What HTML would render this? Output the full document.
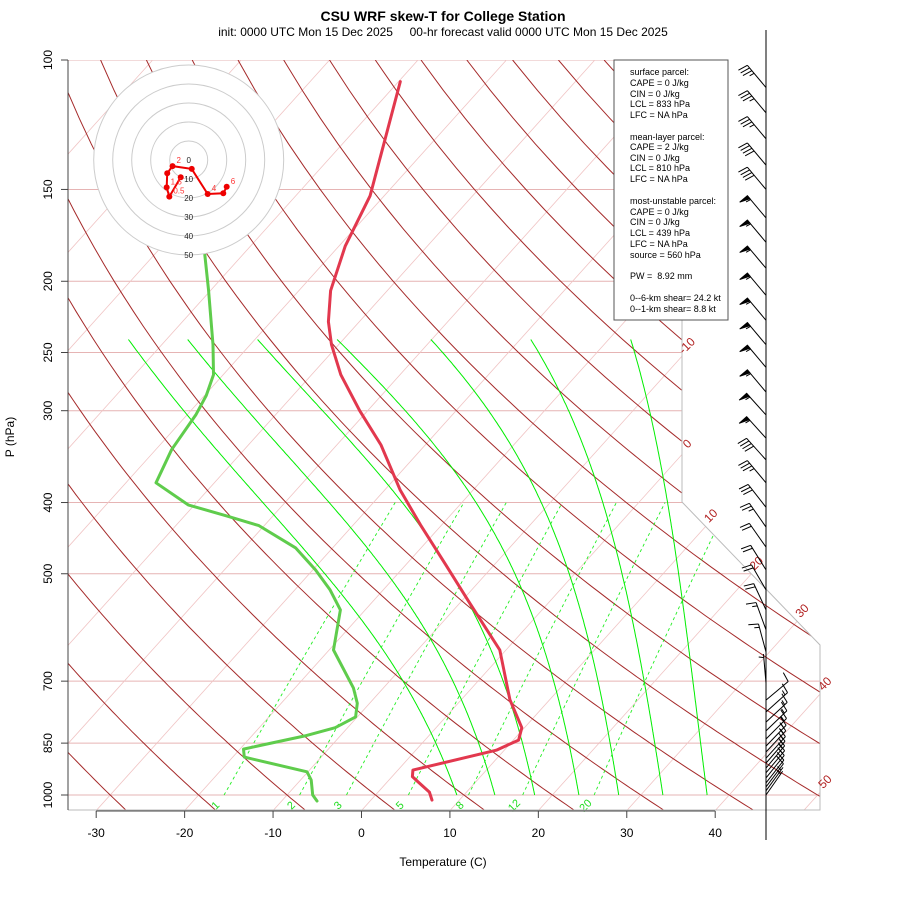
<!DOCTYPE html>
<html><head><meta charset="utf-8"><style>
body{margin:0;background:#fff}
svg{display:block;font-family:"Liberation Sans",sans-serif}
</style></head><body>
<svg id="c" width="900" height="900" viewBox="0 0 900 900">
<defs><clipPath id="plotclip"><polygon points="68,60 682,60 682,502 820,645 820,810 68,810"/></clipPath></defs>
<g id="grid" clip-path="url(#plotclip)"></g>
<g id="prof"></g>
<g id="axes"></g>
<g id="barbs"></g>
<g id="hodo"></g>
<text x="443" y="21" text-anchor="middle" font-size="14" font-weight="bold">CSU WRF skew-T for College Station</text>
<text x="443" y="36" text-anchor="middle" font-size="12" style="white-space:pre">init: 0000 UTC Mon 15 Dec 2025     00-hr forecast valid 0000 UTC Mon 15 Dec 2025</text>
<text x="443" y="866" text-anchor="middle" font-size="12">Temperature (C)</text>
<text x="14" y="437" text-anchor="middle" font-size="12" transform="rotate(-90 14 437)">P (hPa)</text>
<g font-size="9">
<rect x="614" y="60" width="114" height="260" fill="#fff" stroke="#555" stroke-width="1"/>
<text x="630" y="75">surface parcel:</text>
<text x="630" y="86">CAPE = 0 J/kg</text>
<text x="630" y="97">CIN = 0 J/kg</text>
<text x="630" y="107">LCL = 833 hPa</text>
<text x="630" y="118">LFC = NA hPa</text>
<text x="630" y="140">mean-layer parcel:</text>
<text x="630" y="150">CAPE = 2 J/kg</text>
<text x="630" y="161">CIN = 0 J/kg</text>
<text x="630" y="171">LCL = 810 hPa</text>
<text x="630" y="182">LFC = NA hPa</text>
<text x="630" y="204">most-unstable parcel:</text>
<text x="630" y="215">CAPE = 0 J/kg</text>
<text x="630" y="225">CIN = 0 J/kg</text>
<text x="630" y="236">LCL = 439 hPa</text>
<text x="630" y="247">LFC = NA hPa</text>
<text x="630" y="258">source = 560 hPa</text>
<text x="630" y="279" style="white-space:pre">PW =  8.92 mm</text>
<text x="630" y="301">0--6-km shear= 24.2 kt</text>
<text x="630" y="312">0--1-km shear= 8.8 kt</text>
</g>
</svg>
<script>
// ---- data ----
const tempP = [107,153,179,206,227,244,268,300,334,385,429,486,543,635,742,810,842,869,925,944,960,991,1016];
const tempT = [-69.8,-61.6,-59.3,-56.4,-53.5,-50.8,-46.7,-40.9,-35.0,-28.2,-22.4,-15.5,-9.4,-0.7,5.5,9.7,10.6,9.1,1.7,2.3,3.5,5.8,6.9];
const dewP = [184,206,244,268,286,304,339,376,403,417,430,461,494,526,560,635,715,750,783,810,831,866,888,930,954,1000,1019];
const dewT = [-74.3,-70.2,-64.2,-61.1,-59.8,-59.0,-58.2,-56.6,-50.7,-45.3,-40.6,-34.2,-29.7,-26.0,-22.8,-19.5,-13.4,-11.4,-10.2,-11.4,-14.0,-19.6,-18.7,-10.1,-8.8,-7.1,-6.0];
const barbP = [109,118,128,139,150,164,177,192,209,226,244,262,283,304,327,350,376,406,432,460,494,526,560,596,639,704,743,771,796,818,839,858,874,891,905,919,933,948,963,975,987,1000];
const barbDir = [320,320,320,320,320,320,320,320,320,320,320,320,320,318,318,318,320,322,325,325,328,330,335,340,345,355,50,48,47,46,45,44,43,42,41,40,40,39,38,37,36,35];
const barbSpd = [35,35,35,40,40,55,55,55,55,55,55,55,55,55,55,40,35,30,25,20,20,20,20,15,15,5,10,15,15,15,15,15,15,15,15,15,15,10,10,10,5,5];
const hodoU = [-4.2,-10.2,-11.6,-11.3,-8.5,1.6,10.0,18.2,20.0];
const hodoV = [-9.1,-19.3,-14.4,-7.0,-3.2,-4.7,-17.9,-17.5,-14.1];
const hodoLabels = ["","0.5","1.5","","2","","4","","6"];
const isobars = [100,150,200,250,300,400,500,700,850,1000];
const xTicks = [-30,-20,-10,0,10,20,30,40];
const dryThetas = [-60,-50,-40,-30,-20,-10,0,10,20,30,40,50,60,70,80,90,100,110,120,130,140,150,160];
const isoLabels = [-10,0,10,20,30,40,50];
const moistT1000 = [9.2,13.5,18,23,27.5,32.5,37.5];
const moistT240 = [-74.3,-67.6,-59.7,-50.7,-40.1,-28.8,-17.5];
const mixRatios = [1,2,3,5,8,12,20];

// ---- scales ----
const NS='http://www.w3.org/2000/svg';
function Y(p){return 795+319.2*Math.log(p/1000);}
function X(T,p){return 362+8.843*T+0.9*(810-Y(p));}
function mk(parent,tag,attrs){const e=document.createElementNS(NS,tag);for(const k in attrs)e.setAttribute(k,attrs[k]);parent.appendChild(e);return e;}
function pathD(pts){return pts.map((q,i)=>(i?'L':'M')+q[0].toFixed(1)+','+q[1].toFixed(1)).join('');}
function rightX(y){if(y<=502)return 682;if(y<=645)return 682+(y-502)*(138/143);return 820;}
const grid=document.getElementById('grid'),prof=document.getElementById('prof'),axes=document.getElementById('axes');

// isobars
isobars.forEach(p=>{const l=mk(grid,'line',{x1:68,x2:820,y1:Y(p),y2:Y(p),stroke:'#e6b4b4','stroke-width':1});

});
// isotherms
for(let T=-150;T<=60;T+=10){const l=mk(grid,'line',{x1:X(T,1050),y1:Y(1050),x2:X(T,100),y2:Y(100),stroke:'#f0c4c4','stroke-width':0.8});

}
// dry adiabats
dryThetas.forEach(th=>{const pts=[];for(let p=1050;p>=100;p-=10){const T=(th+273.15)*Math.pow(p/1000,0.286)-273.15;pts.push([X(T,p),Y(p)]);}
const e=mk(grid,'path',{d:pathD(pts),fill:'none',stroke:'#a52a2a','stroke-width':1});

});
// moist adiabats (physical shape scaled to reach read 240 hPa value)
function es(Tc){return 6.112*Math.exp(17.67*Tc/(Tc+243.5));}
function pseudo(t0){let T=t0+273.15;const out=[];for(let p=1000;p>=240;p-=2){out.push([p,T-273.15]);
const e=es(T-273.15),rs=0.622*e/(p-e),Lv=2.5e6,Rd=287,cp=1005;
const dTdp=(1/p)*(Rd*T+Lv*rs)/(cp+Lv*Lv*rs*0.622/(Rd*T*T));T-=2*dTdp;}return out;}
moistT1000.forEach((t0,i)=>{const c=pseudo(t0);const last=c[c.length-1][1];const k=(moistT240[i]-t0)/(last-t0);
const pts=c.map(q=>[X(t0+(q[1]-t0)*k,q[0]),Y(q[0])]);
const e=mk(grid,'path',{d:pathD(pts),fill:'none',stroke:'#00ee00','stroke-width':1});

});
// mixing ratio lines
function tdOf(w,p){const e=w*p/(622+w);const l=Math.log(e/6.112);return 243.5*l/(17.67-l);}
mixRatios.forEach(w=>{const pts=[];for(let p=1000;p>=400;p-=10)pts.push([X(tdOf(w,p),p),Y(p)]);
const e=mk(grid,'path',{d:pathD(pts),fill:'none',stroke:'#22ee22','stroke-width':0.9,'stroke-dasharray':'3,3'});


const x=X(tdOf(w,1000),1000)-6;
const t=mk(axes,'text',{x:x,y:808,'font-size':11,fill:'#22dd22','text-anchor':'middle',transform:`rotate(-45 ${x} 808)`});t.textContent=w;

});
// boundary
const b=mk(axes,'polyline',{points:'682,60 682,502 820,645 820,810 68,810',fill:'none',stroke:'#bbbbbb','stroke-width':1});


// isotherm labels at right boundary
isoLabels.forEach(T=>{let bx=null,by=null;for(let y=60;y<=810;y+=0.5){const x=362+8.843*T+0.9*(810-y);if(x<=rightX(y)){bx=x;by=y;break;}}
if(bx===null)return;const tx=bx+8,ty=by-8;
const t=mk(axes,'text',{x:tx,y:ty,'font-size':12,fill:'#b22222','text-anchor':'middle',transform:`rotate(-45 ${tx} ${ty})`});t.textContent=T;

});
// profiles
function prPath(P,T,color,name){const pts=P.map((p,i)=>[X(T[i],p),Y(p)]);const e=mk(prof,'path',{d:pathD(pts),fill:'none',stroke:color,'stroke-width':3,'stroke-linejoin':'round','stroke-linecap':'round'});

}
prPath(dewP,dewT,'#5fcc4c','dewpoint-profile');
prPath(tempP,tempT,'#e2384e','temperature-profile');
// axes
mk(axes,'line',{x1:68,y1:60,x2:68,y2:810,stroke:'#444','stroke-width':1});
isobars.forEach(p=>{mk(axes,'line',{x1:61,x2:68,y1:Y(p),y2:Y(p),stroke:'#444'});
const t=mk(axes,'text',{x:52,y:Y(p),'font-size':12,'text-anchor':'middle',transform:`rotate(-90 52 ${Y(p)})`});t.textContent=p;

});
mk(axes,'line',{x1:X(-30,1050),x2:X(40,1050),y1:811,y2:811,stroke:'#444'});
xTicks.forEach(T=>{const x=X(T,1050);mk(axes,'line',{x1:x,x2:x,y1:811,y2:818,stroke:'#444'});
const t=mk(axes,'text',{x:x,y:837,'font-size':12,'text-anchor':'middle'});t.textContent=T;

});
// wind barbs
const bg=document.getElementById('barbs');
mk(bg,'line',{x1:766,x2:766,y1:30,y2:840,stroke:'#000','stroke-width':1});
barbP.forEach((p,i)=>{const d=barbDir[i]*Math.PI/180,y0=Y(p),x0=766;const ux=Math.sin(d),uy=-Math.cos(d),nx=uy,ny=-ux,L=29;
const tx=x0+ux*L,ty=y0+uy*L;const g=mk(bg,'g',{stroke:'#000','stroke-width':1,fill:'#000'});


mk(g,'line',{x1:x0,y1:y0,x2:tx,y2:ty});
let s=barbSpd[i],k=0;
while(s>=50){const ax=tx-ux*k,ay=ty-uy*k,bx=tx-ux*(k+4),by=ty-uy*(k+4);
mk(g,'polygon',{points:`${ax},${ay} ${bx},${by} ${ax+nx*10},${ay+ny*10}`});s-=50;k+=5;}
while(s>=10){const ax=tx-ux*k,ay=ty-uy*k;mk(g,'line',{x1:ax,y1:ay,x2:ax+nx*10+ux*2,y2:ay+ny*10+uy*2});s-=10;k+=3.5;}
if(s>=5){if(k===0)k=3.5;const ax=tx-ux*k,ay=ty-uy*k;mk(g,'line',{x1:ax,y1:ay,x2:ax+nx*5+ux*1,y2:ay+ny*5+uy*1});}
});
// hodograph
const hg=document.getElementById('hodo');const cx=188.7,cy=160,sc=1.9;
mk(hg,'circle',{cx:cx,cy:cy,r:50*sc,fill:'#fff',stroke:'none'});
[10,20,30,40,50].forEach(r=>{const c=mk(hg,'circle',{cx:cx,cy:cy,r:r*sc,fill:'none',stroke:'#cccccc','stroke-width':1});

});
[0,10,20,30,40,50].forEach(r=>{const t=mk(hg,'text',{x:cx,y:cy+r*sc+3,'font-size':8,'text-anchor':'middle',fill:'#222'});t.textContent=r;});
const hp=hodoU.map((u,i)=>[cx+u*sc,cy-hodoV[i]*sc]);
const hl=mk(hg,'path',{d:pathD(hp),fill:'none',stroke:'#ee0000','stroke-width':2});


hp.forEach((q,i)=>{mk(hg,'circle',{cx:q[0],cy:q[1],r:3,fill:'#ee0000'});
if(hodoLabels[i]){const t=mk(hg,'text',{x:q[0]+4,y:q[1]-3,'font-size':8,fill:'#ff3333'});t.textContent=hodoLabels[i];}});
</script>
</body></html>
